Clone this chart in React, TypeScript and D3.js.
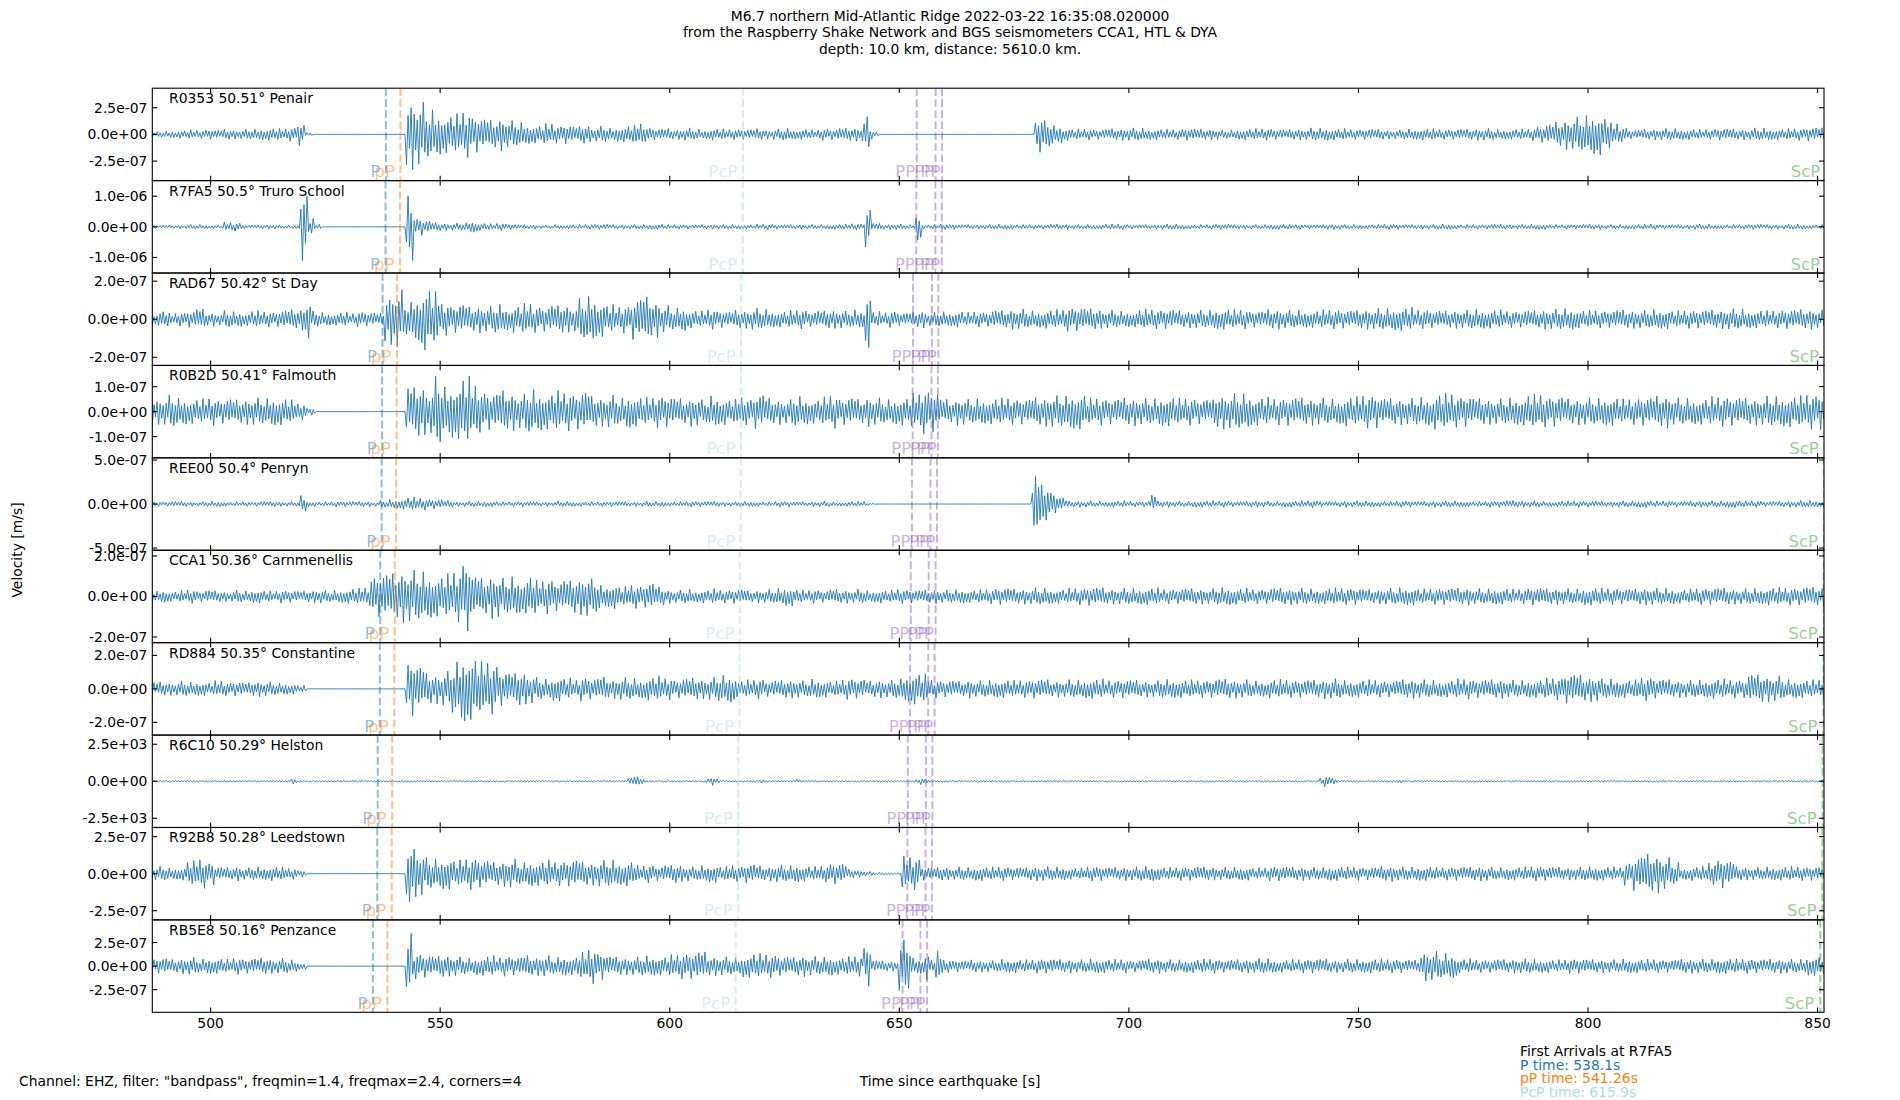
import React from 'react';
import * as d3 from 'd3';

// ---------- figure text ----------
const TITLE_LINES = [
  'M6.7 northern Mid-Atlantic Ridge 2022-03-22 16:35:08.020000',
  'from the Raspberry Shake Network and BGS seismometers CCA1, HTL & DYA',
  'depth: 10.0 km, distance: 5610.0 km.',
];
const X_LABEL = 'Time since earthquake [s]';
const Y_LABEL = 'Velocity [m/s]';
const FOOTNOTE = 'Channel: EHZ, filter: "bandpass", freqmin=1.4, freqmax=2.4, corners=4';
const ARRIVALS_TITLE = 'First Arrivals at R7FA5';
const ARRIVALS = [
  { label: 'P time: 538.1s', color: '#1f77b4' },
  { label: 'pP time: 541.26s', color: '#ff7f0e' },
  { label: 'PcP time: 615.9s', color: '#add8e6' },
];

// ---------- axes ----------
const X_DOMAIN = [487.3, 851.4];
const X_TICKS = [500, 550, 600, 650, 700, 750, 800, 850];

const STATIONS = [
  'R0353 50.51° Penair',
  'R7FA5 50.5° Truro School',
  'RAD67 50.42° St Day',
  'R0B2D 50.41° Falmouth',
  'REE00 50.4° Penryn',
  'CCA1 50.36° Carnmenellis',
  'RD884 50.35° Constantine',
  'R6C10 50.29° Helston',
  'R92B8 50.28° Leedstown',
  'RB5E8 50.16° Penzance',
];
const Y_HALF = [4.33e-7, 1.51e-6, 2.43e-7, 1.85e-7, 5.25e-7, 2.28e-7, 2.76e-7, 3.12e3, 3.12e-7, 4.9e-7];
const Y_TICKS = [
  [2.5e-7, 0, -2.5e-7],
  [1e-6, 0, -1e-6],
  [2e-7, 0, -2e-7],
  [1e-7, 0, -1e-7],
  [5e-7, 0, -5e-7],
  [2e-7, 0, -2e-7],
  [2e-7, 0, -2e-7],
  [2.5e3, 0, -2.5e3],
  [2.5e-7, 0, -2.5e-7],
  [2.5e-7, 0, -2.5e-7],
];

// ---------- phase arrival times per station [s] ----------
const P_TIMES = [538.18, 538.1, 537.45, 537.35, 537.25, 536.95, 536.85, 536.4, 536.3, 535.35];
const PP_DEPTH_TIMES = [541.34, 541.26, 540.6, 540.5, 540.4, 540.1, 540.0, 539.55, 539.45, 538.5];
const PCP_TIMES = [615.95, 615.9, 615.55, 615.5, 615.45, 615.25, 615.2, 614.95, 614.9, 614.35];
const PP1_TIMES = [653.8, 653.7, 653.0, 652.9, 652.75, 652.5, 652.35, 651.85, 651.75, 650.7];
const PP2_TIMES = [657.9, 657.85, 657.1, 657.0, 656.8, 656.4, 656.3, 655.8, 655.7, 654.6];
const PP3_TIMES = [659.3, 659.25, 658.5, 658.4, 658.2, 657.9, 657.7, 657.2, 657.1, 656.05];
const SCP_TIMES = [851.9, 851.85, 851.6, 851.55, 851.4, 851.35, 851.3, 851.1, 851.05, 850.6];

// ---------- trace envelopes: [start s, bin width s, peak amplitude in % of axis half-range] ----------
// later runs override earlier ones
type Run = [number, number, number[]];
const ENV_R0353: Run[] = [
  [487, 2, [6, 7, 8, 9, 10, 9, 11, 10, 12, 10, 11, 12, 13, 14, 13, 15]],
  [519, 1.6, [25]],
  [520.6, 1.5, [4]],
  [542.6, 2, [76, 70, 55, 48, 42, 45, 50, 40, 35, 32, 36, 30, 27]],
  [568.6, 2, [22, 20, 24, 19, 21, 18, 22, 16, 18, 14, 17, 20, 25, 15]],
  [596.6, 2, [12, 13, 11, 14, 12, 10, 13, 12, 11, 12, 11, 13, 10, 12, 14, 11, 12, 10, 13, 12, 14, 15]],
  [640.6, 1.6, [15]],
  [642.2, 1.4, [38]],
  [643.6, 1, [12, 5]],
  [679.5, 2, [42, 30, 20, 14]],
  [687.5, 4, [12, 11, 13, 14, 12, 11, 13, 12, 10, 12, 13, 11, 12, 14, 13, 11, 12, 10, 12, 13, 11, 12, 13, 11, 12, 14, 12, 11, 13, 12, 10, 12, 13, 12, 11, 13, 12, 14, 12, 13, 15, 14]],
  [789, 2, [18, 22, 28, 33, 38, 42, 47, 38, 25, 16]],
];
const ENV_R7FA5: Run[] = [
  [487, 4, [4, 4, 5, 4, 5, 4, 5, 4, 5, 5, 4, 5, 6, 5, 4, 5, 6, 5, 5, 6, 5, 4, 5, 5, 6, 5, 5, 6, 5, 5, 5, 5, 5, 6, 5, 5, 5, 6, 7, 8, 6, 5, 5, 6, 5, 5, 6, 5, 5, 6, 5, 5, 6, 5, 5, 6, 5, 5, 6, 5, 5, 6, 5, 5, 6, 5, 5, 6, 5, 5, 6, 5, 5, 6, 5, 6, 5, 5, 6, 5, 5, 6, 5, 5, 6, 5, 5, 6, 5, 6, 5, 5, 6, 5]],
  [503, 2, [10, 9]],
  [519.6, 1.5, [77]],
  [521.1, 1.5, [18, 6]],
  [524.1, 18.5, [0]],
  [542.6, 1.6, [73]],
  [544.2, 2, [19, 14, 10, 8, 8, 9, 13, 8, 7, 8, 7]],
  [642.4, 1.4, [45]],
  [643.8, 2, [8, 6]],
  [653.5, 1.3, [32]],
];
const ENV_RAD67: Run[] = [
  [487, 2, [14, 19, 13, 15, 18, 23, 15, 14, 19, 17, 15, 19, 17, 16, 20, 22, 24]],
  [520.5, 1.5, [45]],
  [522, 2, [18, 15, 14, 16, 13, 17, 15, 14]],
  [538, 2, [55, 64, 38, 50, 70, 60, 35, 30, 33, 28]],
  [558, 2, [30, 28, 33, 26, 30, 35, 29, 27, 31, 33, 28]],
  [580, 2, [45, 51, 40, 32, 28, 30, 45, 51, 40, 30, 25, 27]],
  [604, 2, [20, 18, 22, 19, 17, 21, 20, 24, 22, 19, 18, 20, 21, 17, 19, 22, 20, 18, 21, 19]],
  [642.5, 1.3, [64]],
  [643.8, 2, [17, 15, 18, 14, 16, 19, 15, 17, 16, 18, 15, 17, 16]],
  [669.8, 4, [20, 22, 19, 21, 26, 24, 20, 18, 22, 21, 19, 20, 23, 21, 18, 22, 20, 19, 21, 20, 22, 24, 26, 21, 19, 20, 22, 21, 18, 20, 22, 24, 20, 19, 21, 20, 22, 19, 20, 21, 23, 20, 19, 21, 22, 20, 21]],
];
const ENV_R0B2D: Run[] = [
  [487, 2, [28, 30, 36, 30, 27, 28, 30, 26, 29, 27, 28, 30, 29, 32, 30, 26, 18]],
  [521, 2, [8]],
  [542.6, 2, [55, 60, 50, 77, 55, 62, 77, 60]],
  [558.6, 2, [45, 40, 48, 42, 38, 50, 44, 40, 46, 42, 39, 45]],
  [582.6, 2, [35, 32, 36, 30, 38, 33, 31, 35, 34, 30]],
  [602.6, 2, [28, 32, 26, 35, 30, 27, 33, 29, 38, 31, 28, 26, 34, 30, 27, 32, 36, 29, 31, 28, 33, 30, 27, 29, 31]],
  [652.6, 2, [40, 48, 45]],
  [658.6, 2, [28, 26, 30, 27, 29, 28]],
  [670.6, 4, [30, 28, 32, 35, 40, 30, 28, 31, 29, 33, 30, 27, 38, 40, 32, 29, 31, 30, 28, 33, 36, 30, 29, 32, 40, 34, 30, 28, 31, 38, 33, 29, 30, 32, 28, 31, 36, 30, 29, 33, 31, 30, 34, 35, 38, 40, 40]],
];
const ENV_REE00: Run[] = [
  [487, 4, [5, 6, 5, 6, 5, 5, 6, 5, 6, 5, 6, 6, 5, 6, 5, 6, 5, 6, 6, 5, 6, 5, 6, 5, 5, 6, 5, 6, 5, 6, 6, 5, 6, 5, 6, 5, 6, 5, 6, 6]],
  [519.5, 1.5, [19]],
  [537, 2, [8, 10, 12, 15, 13, 11, 10, 8]],
  [643, 2, [3]],
  [645, 34, [0]],
  [679, 1, [60, 76, 45, 35, 28, 20, 15, 10, 7]],
  [688, 4, [7, 6, 7, 6, 7]],
  [705, 1, [21]],
  [706, 4, [7, 6, 7, 7, 6, 7, 6, 7, 8, 6, 7, 7, 6, 7, 6, 7, 7, 6, 7, 8, 7, 6, 7, 7, 6, 7, 8, 7, 6, 7, 7, 8, 7, 6, 7, 8, 7, 8]],
];
const ENV_CCA1: Run[] = [
  [487, 2, [12, 14, 11, 13, 15, 12, 14, 13, 11, 14, 12, 15, 13, 12, 14, 13, 12, 14, 15, 13, 14, 16, 18, 20]],
  [535, 2, [45, 50, 52, 57, 57, 55, 50, 45, 50, 55, 77]],
  [557, 2, [45, 42, 48, 40, 44, 38, 46, 35, 38, 32, 36, 40, 45, 38]],
  [585, 2, [25, 28, 22, 26, 24, 30, 22]],
  [599, 2, [15, 14, 16, 13, 15, 17, 14, 15, 16, 13, 14, 15, 18, 22, 16, 14, 15, 13, 16, 15, 14, 16, 13, 15, 14, 16, 15, 14, 15, 16, 14, 15, 16, 14, 15, 16]],
  [671, 4, [18, 17, 19, 16, 18, 20, 17, 18, 19, 16, 18, 17, 20, 18, 16, 19, 18, 17, 19, 18, 16, 18, 20, 17, 18, 19, 17, 18, 16, 19, 18, 17, 20, 18, 17, 19, 18, 16, 18, 19, 17, 18, 20, 19, 21, 22, 20]],
];
const ENV_RD884: Run[] = [
  [487, 2, [15, 16, 14, 17, 15, 16, 14, 18, 15, 16, 14, 17, 16, 15, 13, 12, 8]],
  [542.6, 2, [60, 50, 35, 32, 38, 60, 77, 70, 60, 55, 38, 35, 40, 33]],
  [570.6, 2, [25, 22, 28, 24, 20, 26, 23, 27, 21, 25, 24, 22, 26, 28, 24, 20, 23, 25, 22, 25, 30, 32]],
  [614.6, 2, [18, 20, 22, 17, 19, 21, 20, 18, 22, 19, 17, 20, 23, 21, 18, 20, 19, 22, 30, 35, 32, 20, 18, 19, 17, 20, 18, 19]],
  [670.6, 4, [20, 19, 21, 18, 20, 22, 19, 20, 18, 21, 20, 19, 22, 20, 18, 21, 19, 20, 22, 19, 20, 18, 21, 20, 19, 22, 20, 21, 19, 20, 24, 32, 28, 22, 20, 26, 21, 19, 20, 22, 20, 32, 28, 21, 20, 22, 21]],
];
const ENV_R6C10: Run[] = [
  [487, 366, [2]],
  [517.5, 1.5, [6]],
  [591, 1, [7, 12, 10, 6]],
  [608, 1, [6, 9, 6]],
  [619.5, 1, [5]],
  [627.5, 1, [5]],
  [653.5, 1, [6, 8, 5]],
  [741.5, 1, [7, 12, 10, 6]],
  [758.5, 1, [5]],
];
const ENV_R92B8: Run[] = [
  [487, 2, [14, 16, 13, 15, 28, 32, 25, 15, 14, 16, 13, 15, 14, 16, 15, 12, 8]],
  [542.6, 2, [70, 50, 35, 32, 36, 30, 33, 35]],
  [558.6, 2, [30, 26, 28, 32, 25, 29, 27, 30, 26, 28, 31, 27, 25, 29, 30, 26, 28]],
  [592.6, 2, [18, 20, 16, 19, 22, 17, 15, 18, 20, 16, 19, 17, 21, 18, 16, 19, 18, 20, 17, 16, 18, 23, 22, 10, 8, 5, 3, 2, 2, 38, 35]],
  [654.6, 2, [15, 14, 16, 13, 15, 14, 16, 15]],
  [670.6, 4, [15, 14, 16, 15, 13, 16, 14, 15, 17, 14, 15, 16, 14, 15, 13, 16, 15, 14, 16, 15, 14, 17, 15, 16, 14, 15, 16, 14, 15, 16, 15, 14, 16, 15, 14, 16, 15, 14, 16, 15, 16, 14, 15, 16, 15, 14, 15]],
  [808, 2, [25, 38, 45, 42, 35, 25]],
  [826, 2, [25, 32, 28]],
];
const ENV_RB5E8: Run[] = [
  [487, 2, [16, 18, 15, 17, 19, 16, 18, 17, 15, 18, 16, 17, 19, 16, 17, 14, 8]],
  [542.6, 1.4, [77]],
  [544, 2, [28, 25, 22, 26]],
  [552, 2, [22, 20, 18, 21, 23, 19, 22, 20, 24, 21, 23, 19, 22, 20, 30, 38, 30, 22, 21, 19, 20, 23, 22, 21, 25, 28, 28, 32, 22, 21, 20, 19, 26, 28, 26, 25, 21, 20, 23, 21, 20, 22, 19, 21, 22]],
  [642.3, 1.4, [45]],
  [643.7, 2, [13, 12, 11]],
  [649.7, 2.8, [57]],
  [652.5, 3, [18]],
  [655.5, 1, [32]],
  [656.5, 1.5, [15]],
  [658, 1.5, [32]],
  [659.5, 2, [14, 13, 12, 14, 13, 12]],
  [671.5, 4, [15, 14, 16, 15, 14, 16, 15, 13, 16, 14, 15, 16, 14, 15, 17, 14, 15, 16, 14, 15, 16, 15, 14, 32, 28, 16, 14, 15, 16, 15, 14, 16, 15, 14, 16, 15, 14, 16, 15, 17, 16, 15, 16, 15, 22, 25, 24]],
];
const ENVELOPES = [ENV_R0353, ENV_R7FA5, ENV_RAD67, ENV_R0B2D, ENV_REE00, ENV_CCA1, ENV_RD884, ENV_R6C10, ENV_R92B8, ENV_RB5E8];

// fixed shape of the wiggle drawn inside each envelope (relative peak heights)
const WIGGLE_SHAPE = [0.45, 0.92, 0.6, 0.4, 1.0, 0.7, 0.5, 0.85, 0.38, 0.65, 0.97, 0.55, 0.42, 0.8, 0.6, 0.9, 0.4, 0.72, 0.5, 0.95, 0.62, 0.46, 0.86, 0.54, 0.4, 0.76, 1.0, 0.58, 0.48];
const PEAKS_PER_SECOND = 3;
const TRACE_START = 487;
const TRACE_END = 853;

// ---------- layout ----------
const W = 1900;
const H = 1100;
const LEFT = 152.3;
const RIGHT = 1824;
const TOP = 88.2;
const BOTTOM = 1012.3;
const N = STATIONS.length;
const PH = (BOTTOM - TOP) / N;
const FONT = 'DejaVu Sans, Liberation Sans, sans-serif';
const FS = 13.9;
const TICK = 4.9;

function fmtExp(v: number): string {
  if (v === 0) return '0.0e+00';
  const s = v.toExponential(1);
  const [m, e] = s.split('e');
  const sign = e[0] === '-' ? '-' : '+';
  const digits = e.replace(/[+-]/, '').padStart(2, '0');
  return `${m}e${sign}${digits}`;
}

function envAt(runs: Run[], t: number): number {
  for (let i = runs.length - 1; i >= 0; i--) {
    const [s, step, vals] = runs[i];
    if (t >= s && t < s + step * vals.length) {
      return vals[Math.floor((t - s) / step)];
    }
  }
  return 0;
}

const PHASES = [
  { name: 'P', times: P_TIMES, color: '#1f77b4', off: 5.5 },
  { name: 'pP', times: PP_DEPTH_TIMES, color: '#ff7f0e', off: 5.5 },
  { name: 'PcP', times: PCP_TIMES, color: '#add8e6', off: 5.5 },
  { name: 'PP', times: PP1_TIMES, color: '#9467bd', off: 1.5 },
  { name: 'PP', times: PP2_TIMES, color: '#9467bd', off: 1.5 },
  { name: 'PP', times: PP3_TIMES, color: '#9467bd', off: 1.5 },
  { name: 'ScP', times: SCP_TIMES, color: '#2ca02c', off: 6 },
];

export default function App() {
  React.useEffect(() => {
    document.body.style.margin = '0';
  }, []);
  const x = d3.scaleLinear().domain(X_DOMAIN).range([LEFT, RIGHT]);

  const panels = STATIONS.map((name, i) => {
    const top = TOP + i * PH;
    const bot = top + PH;
    const half = Y_HALF[i];
    const y = d3.scaleLinear().domain([-half, half]).range([bot, top]);
    const runs = ENVELOPES[i];
    const pts: [number, number][] = [];
    const n = Math.round((TRACE_END - TRACE_START) * PEAKS_PER_SECOND);
    for (let k = 0; k <= n; k++) {
      const t = TRACE_START + k / PEAKS_PER_SECOND;
      const v = envAt(runs, t);
      const sgn = k % 2 === 0 ? 1 : -1;
      const amp = (sgn * v * half * WIGGLE_SHAPE[(k + i * 7) % WIGGLE_SHAPE.length]) / 100;
      pts.push([t, amp]);
    }
    const line = d3
      .line<[number, number]>()
      .x((d) => x(d[0]))
      .y((d) => y(d[1]));
    return { name, top, bot, y, path: line(pts) || '', ticks: Y_TICKS[i], i };
  });

  return (
    <div style={{ width: W, height: H }}>
      <svg
        width={W}
        height={H}
        style={{ position: 'absolute', left: 0, top: 0, background: '#ffffff' }}
        fontFamily={FONT}
      >
        <rect x={0} y={0} width={W} height={H} fill="#ffffff" />
        <defs>
          {panels.map((p) => (
            <clipPath id={`clip${p.i}`} key={p.i}>
              <rect x={LEFT} y={p.top} width={RIGHT - LEFT} height={PH} />
            </clipPath>
          ))}
        </defs>

        {/* title */}
        {TITLE_LINES.map((t, i) => (
          <text key={i} x={W / 2} y={20.7 + i * 16.6} textAnchor="middle" fontSize={FS} fill="#000">
            {t}
          </text>
        ))}

        {panels.map((p) => (
          <g key={p.i}>
            {/* trace */}
            <path d={p.path} fill="none" stroke="#1f77b4" strokeWidth={0.9} clipPath={`url(#clip${p.i})`} />
            {/* phase lines */}
            <g clipPath={`url(#clip${p.i})`}>
              {PHASES.map((ph, j) => (
                <line
                  key={j}
                  x1={x(ph.times[p.i])}
                  x2={x(ph.times[p.i])}
                  y1={p.top}
                  y2={p.bot}
                  stroke={ph.color}
                  strokeOpacity={0.5}
                  strokeWidth={2}
                  strokeDasharray="7.7,3.3"
                />
              ))}
            </g>
            {/* phase labels */}
            {PHASES.map((ph, j) => (
              <text
                key={j}
                x={x(ph.times[p.i]) - ph.off}
                y={p.bot - 3.5}
                textAnchor="end"
                fontSize={16.5}
                fill={ph.color}
                fillOpacity={0.5}
              >
                {ph.name}
              </text>
            ))}
            {/* frame */}
            <rect x={LEFT} y={p.top} width={RIGHT - LEFT} height={PH} fill="none" stroke="#000" strokeWidth={1.1} />
            {/* y ticks */}
            {p.ticks.map((v, j) => (
              <g key={j}>
                <line x1={LEFT} x2={LEFT + TICK} y1={p.y(v)} y2={p.y(v)} stroke="#000" strokeWidth={1.1} />
                <line x1={RIGHT - TICK} x2={RIGHT} y1={p.y(v)} y2={p.y(v)} stroke="#000" strokeWidth={1.1} />
                <text x={LEFT - 4.9} y={p.y(v)} dy="0.36em" textAnchor="end" fontSize={FS} fill="#000">
                  {fmtExp(v)}
                </text>
              </g>
            ))}
            {/* x ticks (inward, top and bottom) */}
            {X_TICKS.map((v) => (
              <g key={v}>
                <line x1={x(v)} x2={x(v)} y1={p.bot} y2={p.bot - TICK} stroke="#000" strokeWidth={1.1} />
                <line x1={x(v)} x2={x(v)} y1={p.top} y2={p.top + TICK} stroke="#000" strokeWidth={1.1} />
              </g>
            ))}
            {/* station label */}
            <text x={LEFT + 16.7} y={p.top + 15} fontSize={FS} fill="#000">
              {p.name}
            </text>
          </g>
        ))}

        {/* x tick labels */}
        {X_TICKS.map((v) => (
          <text key={v} x={x(v)} y={BOTTOM + 15.2} textAnchor="middle" fontSize={FS} fill="#000">
            {v}
          </text>
        ))}

        {/* axis labels */}
        <text x={W / 2} y={1086} textAnchor="middle" fontSize={FS} fill="#000">
          {X_LABEL}
        </text>
        <text
          x={0}
          y={0}
          transform={`translate(22, ${H / 2}) rotate(-90)`}
          textAnchor="middle"
          fontSize={FS}
          fill="#000"
        >
          {Y_LABEL}
        </text>
        <text x={19} y={1086} fontSize={FS} fill="#000">
          {FOOTNOTE}
        </text>

        {/* first arrivals block */}
        <text x={1520} y={1056} fontSize={FS} fill="#000">
          {ARRIVALS_TITLE}
        </text>
        {ARRIVALS.map((a, i) => (
          <text key={i} x={1520} y={1070 + i * 13.4} fontSize={FS} fill={a.color}>
            {a.label}
          </text>
        ))}
      </svg>
    </div>
  );
}
